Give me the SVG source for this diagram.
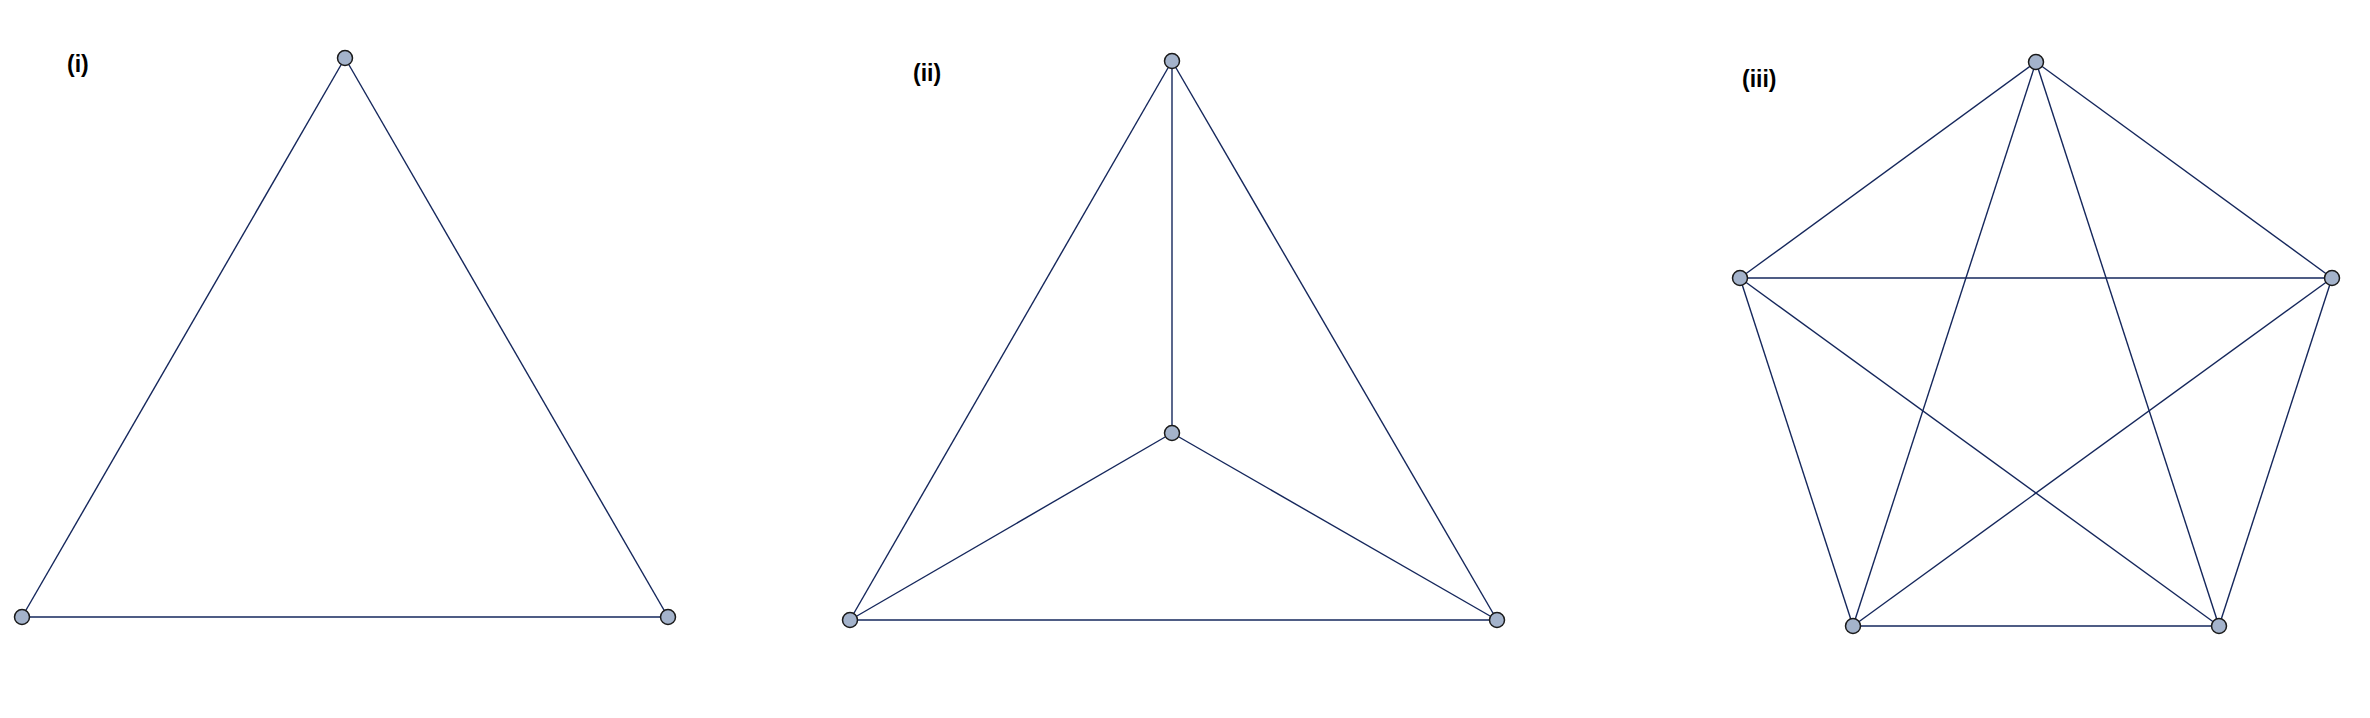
<svg xmlns="http://www.w3.org/2000/svg" width="2370" height="718" viewBox="0 0 2370 718">
<style>
.edge{stroke:#15275C;stroke-width:1.4;fill:none}
.node{fill:#A4B3CB;stroke:#1A1A1A;stroke-width:1.5}
.lbl{font-family:"Liberation Sans",Arial,sans-serif;font-weight:bold;font-size:23px;fill:#000}
</style>
<rect width="2370" height="718" fill="#FFFFFF"/>
<g id="connectors">
<line class="edge" x1="345" y1="58" x2="22" y2="617"/>
<line class="edge" x1="345" y1="58" x2="668" y2="617"/>
<line class="edge" x1="22" y1="617" x2="668" y2="617"/>
<line class="edge" x1="1172" y1="61" x2="850" y2="620"/>
<line class="edge" x1="1172" y1="61" x2="1497" y2="620"/>
<line class="edge" x1="1172" y1="61" x2="1172" y2="433"/>
<line class="edge" x1="1172" y1="433" x2="850" y2="620"/>
<line class="edge" x1="1172" y1="433" x2="1497" y2="620"/>
<line class="edge" x1="850" y1="620" x2="1497" y2="620"/>
<line class="edge" x1="2036" y1="62" x2="1740" y2="278"/>
<line class="edge" x1="2036" y1="62" x2="2332" y2="278"/>
<line class="edge" x1="2036" y1="62" x2="1853" y2="626"/>
<line class="edge" x1="2036" y1="62" x2="2219" y2="626"/>
<line class="edge" x1="1740" y1="278" x2="2332" y2="278"/>
<line class="edge" x1="1740" y1="278" x2="1853" y2="626"/>
<line class="edge" x1="1740" y1="278" x2="2219" y2="626"/>
<line class="edge" x1="2332" y1="278" x2="1853" y2="626"/>
<line class="edge" x1="2332" y1="278" x2="2219" y2="626"/>
<line class="edge" x1="1853" y1="626" x2="2219" y2="626"/>
</g>
<g id="labels">
<text class="lbl" x="67" y="72">(i)</text>
<text class="lbl" x="913" y="81">(ii)</text>
<text class="lbl" x="1742" y="87">(iii)</text>
</g>
<g id="n1a"><circle class="node" cx="345" cy="58" r="7.5"/></g>
<g id="n1b"><circle class="node" cx="22" cy="617" r="7.5"/></g>
<g id="n1c"><circle class="node" cx="668" cy="617" r="7.5"/></g>
<g id="n2a"><circle class="node" cx="1172" cy="61" r="7.5"/></g>
<g id="n2b"><circle class="node" cx="1172" cy="433" r="7.5"/></g>
<g id="n2c"><circle class="node" cx="850" cy="620" r="7.5"/></g>
<g id="n2d"><circle class="node" cx="1497" cy="620" r="7.5"/></g>
<g id="n3a"><circle class="node" cx="2036" cy="62" r="7.5"/></g>
<g id="n3b"><circle class="node" cx="1740" cy="278" r="7.5"/></g>
<g id="n3c"><circle class="node" cx="2332" cy="278" r="7.5"/></g>
<g id="n3d"><circle class="node" cx="1853" cy="626" r="7.5"/></g>
<g id="n3e"><circle class="node" cx="2219" cy="626" r="7.5"/></g>
</svg>
